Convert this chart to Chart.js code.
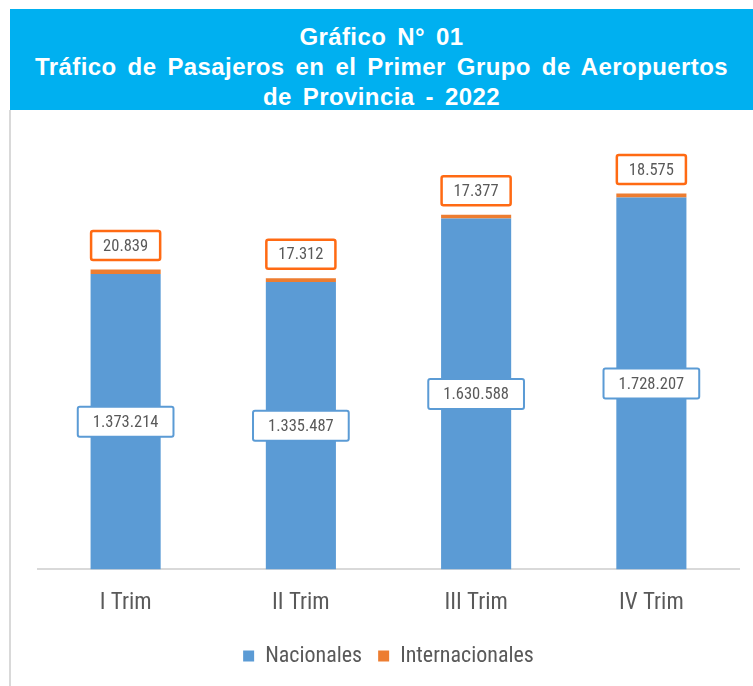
<!DOCTYPE html>
<html>
<head>
<meta charset="utf-8">
<script src="https://cdn.jsdelivr.net/npm/chart.js@4.4.1/dist/chart.umd.min.js"></script>
<style>
  html, body { margin: 0; padding: 0; background: #fff; }
  body { width: 753px; height: 686px; position: relative; overflow: hidden; }
  .banner {
    position: absolute; left: 10px; top: 9px; width: 743px; height: 101px;
    background: #00B0F0; color: #fff; text-align: center;
    font-family: 'Liberation Sans', Arial, sans-serif; font-weight: bold;
    font-size: 24px; line-height: 30px; padding-top: 13px; box-sizing: border-box;
    letter-spacing: 0.4px; word-spacing: 4px;
  }
  .frame {
    position: absolute; left: 9px; top: 110px; width: 744px; height: 576px;
    border-left: 2px solid #d9d9d9; box-sizing: border-box;
  }
  #chart { position: absolute; left: 11px; top: 110px; }
</style>
</head>
<body>
<div class="banner">Gráfico N° 01<br>Tráfico de Pasajeros en el Primer Grupo de Aeropuertos<br>de Provincia - 2022</div>
<div class="frame"></div>
<canvas id="chart" width="742" height="576"></canvas>
<script>
  'use strict';

  const TRIMESTRES = ['I Trim', 'II Trim', 'III Trim', 'IV Trim'];
  const NACIONALES = [1373214, 1335487, 1630588, 1728207];
  const INTERNACIONALES = [20839, 17312, 17377, 18575];

  const BLUE = '#5B9BD5';
  const ORANGE = '#ED7D31';
  const TEXT = '#595959';
  const FONT = "'Liberation Sans Narrow', 'Roboto Condensed', 'Open Sans', sans-serif";

  function fmt(n) {
    return String(n).replace(/\B(?=(\d{3})+(?!\d))/g, '.');
  }

  function drawBox(ctx, text, cx, cy, padX, h, stroke, lw) {
    const w = ctx.measureText(text).width + padX * 2;
    ctx.beginPath();
    ctx.roundRect(cx - w / 2, cy - h / 2, w, h, 2);
    ctx.fillStyle = '#fff';
    ctx.fill();
    ctx.lineWidth = lw;
    ctx.strokeStyle = stroke;
    ctx.stroke();
    ctx.fillStyle = TEXT;
    ctx.fillText(text, cx, cy + 1);
  }

  // Value boxes: centre of blue segment, and above the stack for the orange one
  const boxLabels = {
    id: 'boxLabels',
    afterDatasetsDraw(chart) {
      const ctx = chart.ctx;
      const nac = chart.getDatasetMeta(0).data;
      const intl = chart.getDatasetMeta(1).data;
      ctx.save();
      ctx.font = '16.5px ' + FONT;
      ctx.textAlign = 'center';
      ctx.textBaseline = 'middle';
      nac.forEach((bar, i) => {
        const mid = (bar.y + bar.base) / 2;
        drawBox(ctx, fmt(NACIONALES[i]), bar.x, mid, 15, 30, BLUE, 2);
        const top = intl[i].y;
        drawBox(ctx, fmt(INTERNACIONALES[i]), bar.x, top - 24, 12, 29, '#FF6A13', 2.5);
      });
      ctx.restore();
    },
  };

  new Chart(document.getElementById('chart'), {
    type: 'bar',
    data: {
      labels: TRIMESTRES,
      datasets: [
        { label: 'Nacionales', data: NACIONALES, backgroundColor: BLUE },
        { label: 'Internacionales', data: INTERNACIONALES, backgroundColor: ORANGE },
      ],
    },
    options: {
      responsive: false,
      animation: false,
      datasets: { bar: { barPercentage: 0.4, categoryPercentage: 1 } },
      layout: { padding: { left: 27, right: 14, top: 29, bottom: 9 } },
      plugins: {
        legend: {
          position: 'bottom',
          labels: {
            boxWidth: 11,
            boxHeight: 11,
            padding: 16,
            color: TEXT,
            font: { family: FONT, size: 22 },
          },
        },
        tooltip: { enabled: false },
      },
      scales: {
        x: {
          stacked: true,
          grid: { display: false },
          border: { color: '#d9d9d9', width: 2 },
          ticks: { color: TEXT, font: { family: FONT, size: 23 }, padding: 12 },
        },
        y: {
          stacked: true,
          display: false,
          min: 0,
          max: 2000000,
        },
      },
    },
    plugins: [boxLabels],
  });
</script>
</body>
</html>
